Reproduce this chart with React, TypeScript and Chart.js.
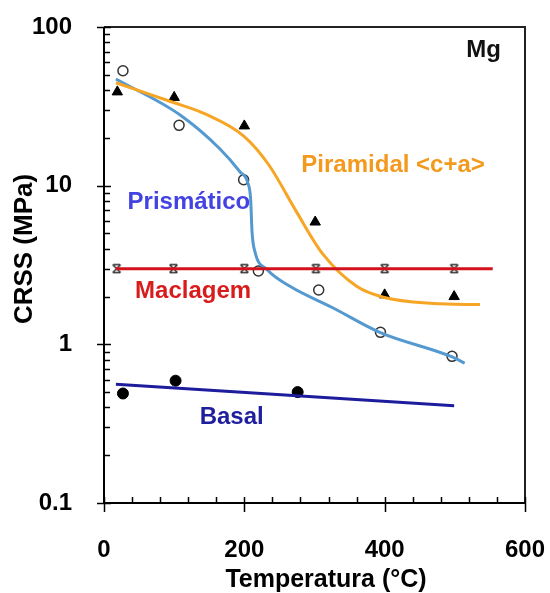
import React, { useEffect, useRef } from "react";
import { Chart, registerables } from "chart.js";

Chart.register(...registerables);

// Measured points
const prismaticoT = [27, 107, 199, 220, 306, 394, 496];
const prismaticoV = [53, 24, 10.9, 2.9, 2.2, 1.19, 0.84];
const piramidalT = [19, 100, 200, 301, 400, 499];
const piramidalV = [39, 36, 23.8, 5.9, 2.05, 2.0];
const maclagemT = [18, 99, 200, 302, 400, 499];
const maclagemV = [3.0, 3.0, 3.0, 3.0, 3.0, 3.0];
const basalT = [27, 102, 276];
const basalV = [0.49, 0.59, 0.5];

// Fitted curves
const prismaticoFitT = [17, 108, 165, 194, 205, 209, 211, 215, 232, 265, 326, 393, 497, 514];
const prismaticoFitV = [47, 28, 17.1, 12.2, 10.4, 8.2, 5.1, 3.85, 2.97, 2.32, 1.7, 1.19, 0.83, 0.76];
const piramidalFitT = [17, 100, 145, 200, 235, 275, 312, 360, 398, 469, 536];
const piramidalFitV = [44.5, 33.3, 28.2, 20.4, 13.5, 6.76, 3.7, 2.32, 1.98, 1.81, 1.78];
const maclagemFitT = [17, 554];
const maclagemFitV = [3.0, 3.0];
const basalFitT = [17, 499];
const basalFitV = [0.56, 0.41];

// Axis ticks
const xTicks = [0, 200, 400, 600];
const yTicks = [0.1, 1, 10, 100];

// Labels
const labelTexts = ["Mg", "Piramidal <c+a>", "Prismático", "Maclagem", "Basal"];
const labelT = [541, 412, 121, 127, 182];
const labelV = [71.7, 13.4, 7.8, 2.15, 0.348];
const labelColors = ["#111111", "#F39A1E", "#4343E3", "#D81C1C", "#1E1E9E"];

const FONT = '"Liberation Sans", Arial, sans-serif';

const pts = (t: number[], v: number[]) => t.map((x, i) => ({ x, y: v[i] }));

function makeCrossMarker() {
  const c = document.createElement("canvas");
  c.width = 11;
  c.height = 11;
  const g = c.getContext("2d")!;
  g.strokeStyle = "#333";
  g.lineWidth = 1.5;
  g.beginPath();
  g.moveTo(1.5, 1.5);
  g.lineTo(9.5, 9.5);
  g.moveTo(9.5, 1.5);
  g.lineTo(1.5, 9.5);
  g.moveTo(2, 1.5);
  g.lineTo(9, 1.5);
  g.moveTo(2, 9.5);
  g.lineTo(9, 9.5);
  g.stroke();
  return c;
}

const framePlugin = {
  id: "frame",
  beforeDatasetsDraw(chart: any) {
    const { ctx, chartArea: a, scales } = chart;
    const xs = scales.x;
    const ys = scales.y;
    ctx.save();
    ctx.strokeStyle = "#222";
    ctx.lineWidth = 2;
    ctx.beginPath();
    ctx.moveTo(a.left, a.top);
    ctx.lineTo(a.right, a.top);
    ctx.lineTo(a.right, a.bottom);
    ctx.stroke();
    ctx.strokeStyle = "#000";
    ctx.beginPath();
    ctx.moveTo(a.left, a.top);
    ctx.lineTo(a.left, a.bottom);
    ctx.lineTo(a.right, a.bottom);
    ctx.stroke();
    ctx.lineWidth = 1.5;
    ctx.beginPath();
    // y ticks
    for (const d of [0.1, 1, 10]) {
      for (let k = 2; k <= 9; k++) {
        const py = Math.round(ys.getPixelForValue(k * d)) + 0.5;
        ctx.moveTo(a.left, py);
        ctx.lineTo(a.left + 6, py);
      }
    }
    for (const v of yTicks) {
      const py = Math.round(ys.getPixelForValue(v)) + 0.5;
      ctx.moveTo(a.left - 7, py);
      ctx.lineTo(a.left + 7, py);
    }
    // x ticks
    for (let v = 40; v < 600; v += 40) {
      if (v % 200 === 0) continue;
      const px = Math.round(xs.getPixelForValue(v)) + 0.5;
      ctx.moveTo(px, a.bottom);
      ctx.lineTo(px, a.bottom - 6);
    }
    for (const v of xTicks) {
      const px = Math.round(xs.getPixelForValue(v)) + 0.5;
      ctx.moveTo(px, a.bottom - 6);
      ctx.lineTo(px, a.bottom + 9);
    }
    ctx.stroke();
    ctx.restore();
  },
  afterDraw(chart: any) {
    const { ctx, scales } = chart;
    ctx.save();
    ctx.textAlign = "center";
    ctx.textBaseline = "middle";
    ctx.font = `bold 24px ${FONT}`;
    labelTexts.forEach((txt, i) => {
      ctx.fillStyle = labelColors[i];
      ctx.fillText(txt, scales.x.getPixelForValue(labelT[i]), scales.y.getPixelForValue(labelV[i]));
    });
    ctx.fillStyle = "#000";
    ctx.font = `bold 25px ${FONT}`;
    ctx.fillText("Temperatura (°C)", 326, 580);
    ctx.translate(25, 249);
    ctx.rotate(-Math.PI / 2);
    ctx.font = `bold 26px ${FONT}`;
    ctx.fillText("CRSS (MPa)", 0, 0);
    ctx.restore();
  },
};

const zeroPad = (s: any) => {
  s.paddingLeft = 0;
  s.paddingRight = 0;
  s.paddingTop = 0;
  s.paddingBottom = 0;
};

export default function App() {
  const ref = useRef<HTMLCanvasElement>(null);
  useEffect(() => {
    if (!ref.current) return;
    const lineDs = (t: number[], v: number[], color: string, mono: boolean) => ({
      data: pts(t, v),
      showLine: true,
      borderColor: color,
      borderWidth: 3,
      pointRadius: 0,
      fill: false,
      cubicInterpolationMode: mono ? "monotone" : "default",
      tension: 0,
    });
    const chart = new Chart(ref.current, {
      type: "scatter",
      data: {
        datasets: [
          lineDs(basalFitT, basalFitV, "#1C1C9C", false),
          lineDs(maclagemFitT, maclagemFitV, "#D3121C", false),
          lineDs(piramidalFitT, piramidalFitV, "#F7A524", true),
          lineDs(prismaticoFitT, prismaticoFitV, "#5499D0", true),
          {
            data: pts(prismaticoT, prismaticoV),
            pointStyle: "circle",
            pointRadius: 5,
            pointBorderColor: "#333",
            pointBackgroundColor: "rgba(255,255,255,0)",
            pointBorderWidth: 1.5,
            showLine: false,
          },
          {
            data: pts(piramidalT, piramidalV),
            pointStyle: "triangle",
            pointRadius: 6,
            pointBorderColor: "#000",
            pointBackgroundColor: "#000",
            pointBorderWidth: 1,
            showLine: false,
          },
          {
            data: pts(maclagemT, maclagemV),
            pointStyle: makeCrossMarker(),
            pointRadius: 5,
            showLine: false,
          },
          {
            data: pts(basalT, basalV),
            pointStyle: "circle",
            pointRadius: 5.5,
            pointBorderColor: "#000",
            pointBackgroundColor: "#000",
            pointBorderWidth: 1,
            showLine: false,
          },
        ] as any,
      },
      plugins: [framePlugin],
      options: {
        responsive: false,
        animation: false,
        layout: { padding: { left: 0, right: 25, top: 27, bottom: 0 } },
        plugins: { legend: { display: false }, tooltip: { enabled: false } },
        scales: {
          x: {
            type: "linear",
            min: 0,
            max: 600,
            grid: { display: false, drawTicks: false },
            border: { display: false },
            afterFit: (s: any) => {
              s.height = 90;
              zeroPad(s);
            },
            afterBuildTicks: (s: any) => {
              s.ticks = xTicks.map((v) => ({ value: v }));
            },
            ticks: {
              padding: 33,
              color: "#000",
              font: { family: FONT, size: 24, weight: "bold" },
              callback: (v: any) => String(v),
            },
          },
          y: {
            type: "logarithmic",
            min: 0.1,
            max: 100,
            grid: { display: false, drawTicks: false },
            border: { display: false },
            afterFit: (s: any) => {
              s.width = 104;
              zeroPad(s);
            },
            afterBuildTicks: (s: any) => {
              s.ticks = yTicks.map((v) => ({ value: v }));
            },
            ticks: {
              padding: 32,
              color: "#000",
              font: { family: FONT, size: 24, weight: "bold" },
              callback: (v: any) => String(v),
            },
          },
        },
      } as any,
    });
    return () => chart.destroy();
  }, []);
  return (
    <div style={{ position: "absolute", left: 0, top: 0, width: 550, height: 593, background: "#fff" }}>
      <canvas ref={ref} width={550} height={593} />
    </div>
  );
}
